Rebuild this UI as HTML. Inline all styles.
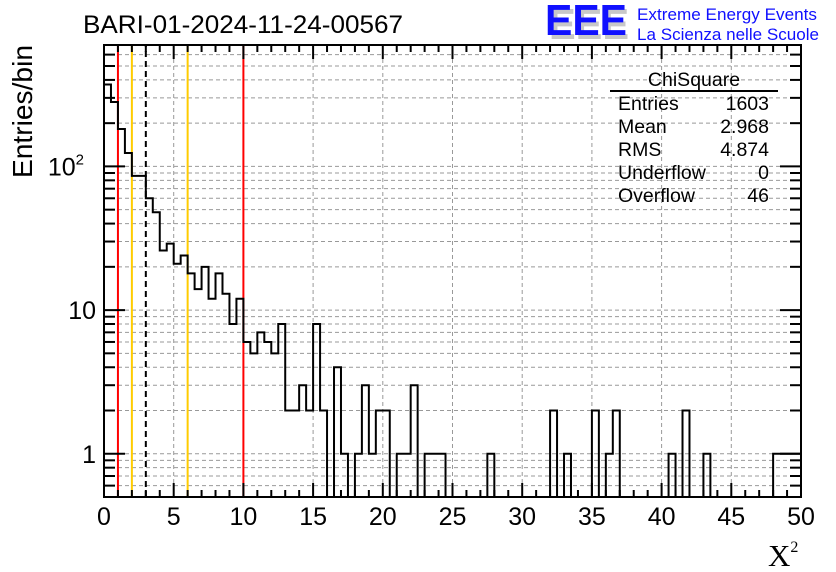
<!DOCTYPE html>
<html><head><meta charset="utf-8"><style>
body{margin:0;background:#fff}
svg{display:block;font-family:"Liberation Sans",sans-serif}
</style></head><body>
<svg id="chart" width="836" height="572" viewBox="0 0 836 572">
<g id="grid"></g>
<g id="refs"></g>
<path id="hist" fill="none" stroke="#000" stroke-width="2"/>
<g id="axes"></g>
<rect x="104" y="45" width="697" height="452" fill="none" stroke="#000" stroke-width="2"/>
<text x="83" y="33" font-size="25" textLength="320" lengthAdjust="spacingAndGlyphs">BARI-01-2024-11-24-00567</text>
<text transform="translate(32,178) rotate(-90)" font-size="28" textLength="133" lengthAdjust="spacingAndGlyphs">Entries/bin</text>
<text x="768" y="566" font-size="31" font-family="Liberation Serif,serif">X<tspan font-size="16" dy="-14">2</tspan></text>
<g>
<text x="549" y="39" font-size="44" font-weight="bold" fill="#c8c8c8" font-family="Liberation Sans Narrow,Liberation Sans,sans-serif" textLength="80" lengthAdjust="spacingAndGlyphs">EEE</text>
<text x="545" y="35" font-size="44" font-weight="bold" fill="#1010ff" font-family="Liberation Sans Narrow,Liberation Sans,sans-serif" textLength="82" lengthAdjust="spacingAndGlyphs">EEE</text>
<text x="637" y="20" font-size="17" fill="#1010ff" textLength="180" lengthAdjust="spacingAndGlyphs">Extreme Energy Events</text>
<text x="637" y="40" font-size="17" fill="#1010ff" textLength="182" lengthAdjust="spacingAndGlyphs">La Scienza nelle Scuole</text>
</g>
<g font-size="19.5">
<text x="694" y="86" text-anchor="middle">ChiSquare</text>
<line x1="610" y1="91" x2="778" y2="91" stroke="#000" stroke-width="2"/>
<text x="618" y="110">Entries</text><text x="769" y="110" text-anchor="end">1603</text>
<text x="618" y="133">Mean</text><text x="769" y="133" text-anchor="end">2.968</text>
<text x="618" y="156">RMS</text><text x="769" y="156" text-anchor="end">4.874</text>
<text x="618" y="179">Underflow</text><text x="769" y="179" text-anchor="end">0</text>
<text x="618" y="202">Overflow</text><text x="769" y="202" text-anchor="end">46</text>
</g>
</svg>
<script>
const binCounts=[372,281,182,124,86,86,60,48,26,29,21,24,18,14,20,12,18,13,8,12,
6,5,7,6,5,8,2,2,3,2,8,2,0,4,1,0,1,3,1,2,2,0,1,1,3,0,1,1,1,0,
0,0,0,0,0,1,0,0,0,0,0,0,0,0,2,0,1,0,0,0,2,0,1,2,0,0,0,0,0,0,
0,1,0,2,0,0,1,0,0,0,0,0,0,0,0,0,1,1,1,1];
const binWidth=0.5;
const xTicks=[0,5,10,15,20,25,30,35,40,45,50];
const yLabels=[{v:1,t:"1"},{v:10,t:"10"},{v:100,t:"10",sup:"2"}];
const refRed=[1,10];
const refYellow=[2,6];
const refDashed=[3];
const X0=104,X1=801,Y0=497,Y1=45,xmin=0,xmax=50,lmin=Math.log10(0.5),lmax=Math.log10(700);
const NS="http://www.w3.org/2000/svg";
function xs(v){return X0+(v-xmin)/(xmax-xmin)*(X1-X0);}
function ys(v){if(v<=0)return Y0;return Y0-(Math.log10(v)-lmin)/(lmax-lmin)*(Y0-Y1);}
function mk(tag,attrs,parent){const e=document.createElementNS(NS,tag);for(const k in attrs)e.setAttribute(k,attrs[k]);parent.appendChild(e);return e;}
const grid=document.getElementById('grid'),axes=document.getElementById('axes'),refs=document.getElementById('refs');
const yMinor=[];
for(let d=-1;d<=2;d++)for(let m=1;m<=9;m++){const v=m*Math.pow(10,d);if(v>=0.5&&v<=700)yMinor.push(v);}
yMinor.forEach(v=>{const y=ys(v);const major=Math.abs(Math.log10(v)%1)<1e-9;
 const g=mk('line',{x1:X0,x2:X1,y1:y,y2:y,stroke:'#999','stroke-dasharray':'4,3','stroke-width':1},grid);
 
 const L=major?21:11;
 const t1=mk('line',{x1:X0,x2:X0+L,y1:y,y2:y,stroke:'#000','stroke-width':2},axes);
 
 const t2=mk('line',{x1:X1,x2:X1-L,y1:y,y2:y,stroke:'#000','stroke-width':2},axes);
 
});
yLabels.forEach(o=>{const t=mk('text',{x:96,y:ys(o.v)+9,'font-size':25,'text-anchor':'end'},axes);
 
 t.textContent=o.t;
 if(o.sup){t.setAttribute('x',84);const s=mk('tspan',{'font-size':15,dy:-11},t);s.textContent=o.sup;}
});
for(let v=xmin;v<=xmax;v++){const x=xs(v);const major=v%5===0;const L=major?14:7;
 const a=mk('line',{x1:x,x2:x,y1:Y0,y2:Y0-L,stroke:'#000','stroke-width':2},axes);
 
 const b=mk('line',{x1:x,x2:x,y1:Y1,y2:Y1+L,stroke:'#000','stroke-width':2},axes);
 
}
xTicks.forEach(v=>{const x=xs(v);
 if(v>xmin&&v<xmax){const g=mk('line',{x1:x,x2:x,y1:Y0,y2:Y1,stroke:'#999','stroke-dasharray':'4,3','stroke-width':1},grid);
 }
 const t=mk('text',{x:x,y:525,'font-size':25,'text-anchor':'middle'},axes);
 
 t.textContent=String(v);
});
function ref(v,color,dash,name){const l=mk('line',{x1:xs(v),x2:xs(v),y1:Y0,y2:Y1,stroke:color,'stroke-width':2},refs);
 if(dash)l.setAttribute('stroke-dasharray',dash);
 }
refRed.forEach(v=>ref(v,'#ff0000',null,'red-reference-line'));
refYellow.forEach(v=>ref(v,'#ffcc00',null,'yellow-reference-line'));
refDashed.forEach(v=>ref(v,'#000','6,4','dashed-reference-line'));
let d='M'+xs(0)+','+ys(binCounts[0]);
binCounts.forEach((c,i)=>{const xa=xs(i*binWidth),xb=xs((i+1)*binWidth),y=ys(c);
 d+=' L'+xa+','+y+' L'+xb+','+y;});
document.getElementById('hist').setAttribute('d',d);
</script>
</body></html>
